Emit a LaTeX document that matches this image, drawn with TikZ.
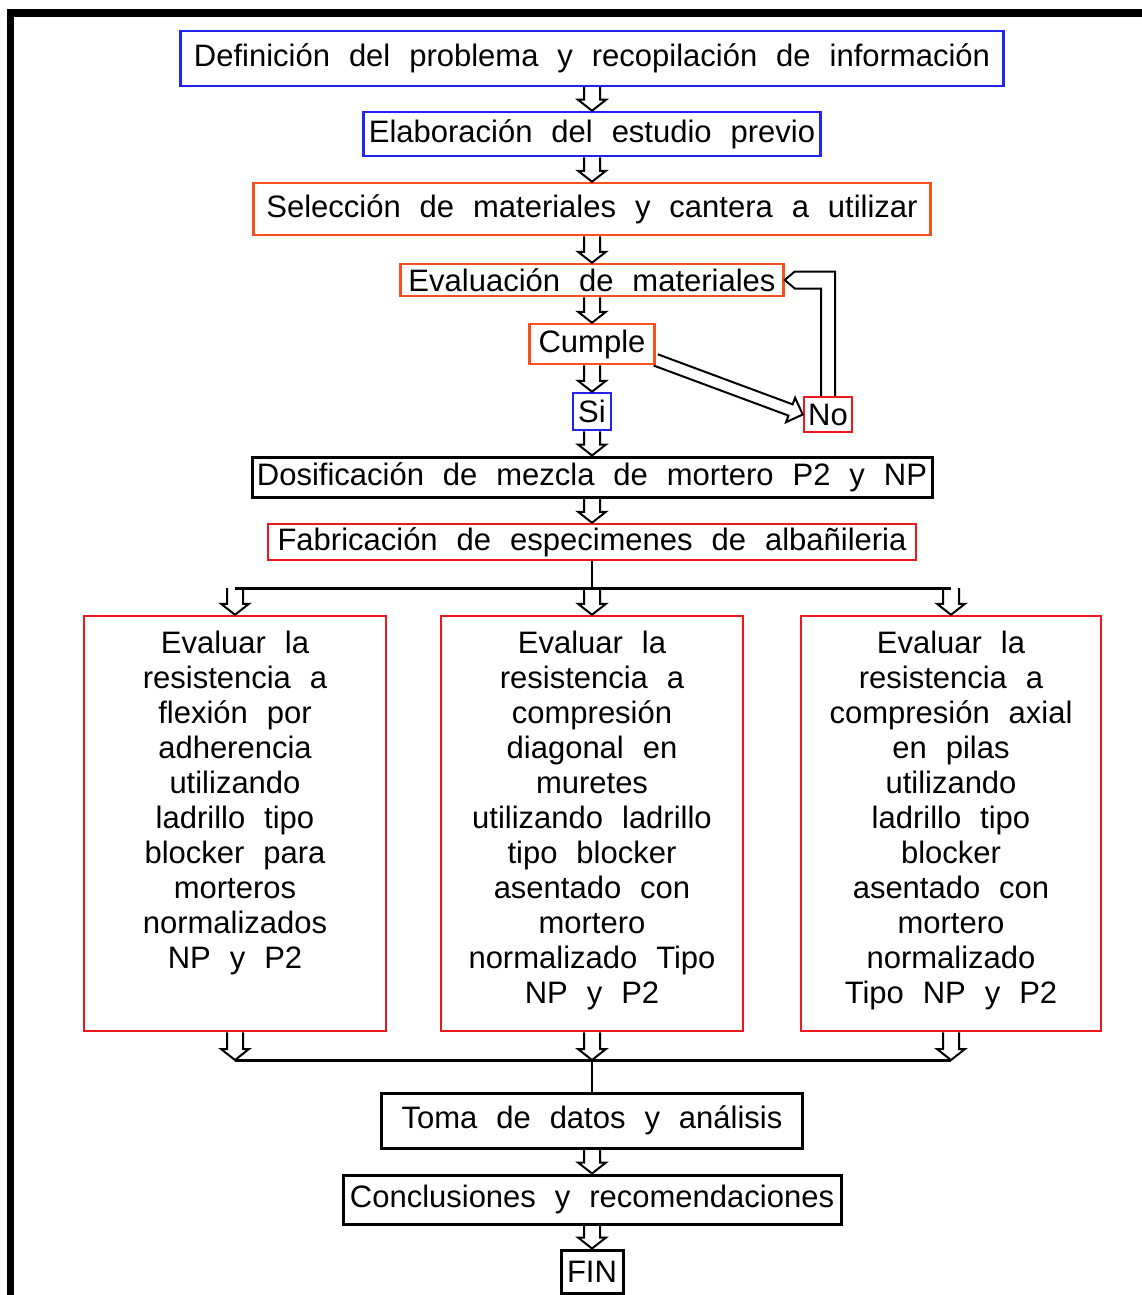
\documentclass[tikz,border=0pt]{standalone}
\usepackage{fontspec}
\setmainfont{Liberation Sans}[WordSpace=2.2]
\usetikzlibrary{calc}
\definecolor{stepblue}{RGB}{35,35,240}
\definecolor{steporange}{RGB}{250,80,30}
\definecolor{stepred}{RGB}{235,25,30}

\newcommand{\boxfont}{\fontsize{31}{35}\selectfont}
\newcommand{\arrsw}{8pt}
\newcommand{\arrhw}{14pt}
\newcommand{\arrhl}{11pt}
% hollow block arrow, tip at #2
\newcommand{\blkarrow}[2]{%
  \coordinate (hb) at ($(#2)!\arrhl!(#1)$);
  \draw[blk] ($(#1)!\arrsw!90:(#2)$) -- ($(hb)!\arrsw!90:(#2)$) -- ($(hb)!\arrhw!90:(#2)$)
    -- (#2) -- ($(hb)!\arrhw!-90:(#2)$) -- ($(hb)!\arrsw!-90:(#2)$) -- ($(#1)!\arrsw!-90:(#2)$);}
\newcommand{\evtext}[1]{\parbox[c][385pt][t]{296pt}{\centering #1}}

\begin{document}
\begin{tikzpicture}[x=1pt, y=1pt,
    box/.style={draw, line width=2.5pt, inner sep=0pt, font=\boxfont, align=center},
    bluebox/.style={box, draw=stepblue},
    orangebox/.style={box, draw=steporange},
    redbox/.style={box, draw=stepred},
    blackbox/.style={box, draw=black, line width=3pt},
    blk/.style={draw=black, line width=2pt, line join=miter},
    bus/.style={draw=black, line width=3pt}
]
    \useasboundingbox (0,0) rectangle (1142,-1295);
    % frame
    \fill (7,-9) rectangle (1142,-17);
    \fill (7,-9) rectangle (14,-1295);

    \node[bluebox, minimum width=823, minimum height=55] (def) at (592,-58.5)
        {Definición del problema y recopilación de información};
    \node[bluebox, minimum width=457, minimum height=44] (elab) at (592,-134)
        {Elaboración del estudio previo};
    \node[orangebox, minimum width=677, minimum height=52] (sel) at (592,-209)
        {Selección de materiales y cantera a utilizar};
    \node[orangebox, minimum width=383, minimum height=32] (eval) at (592,-280)
        {Evaluación de materiales};
    \node[orangebox, minimum width=125, minimum height=40] (cumple) at (592,-344)
        {Cumple};
    \node[bluebox, minimum width=38, minimum height=37] (si) at (592,-411.5) {Si};
    \node[redbox, minimum width=48, minimum height=35] (no) at (828,-414.5) {No};
    \node[blackbox, minimum width=680, minimum height=40] (dosif) at (592,-477)
        {Dosificación de mezcla de mortero P2 y NP};
    \node[redbox, minimum width=648, minimum height=36] (fab) at (592,-542)
        {Fabricación de especimenes de albañileria};

    \node[redbox, minimum width=302, minimum height=415] (ev1) at (235,-823.5)
        {\evtext{Evaluar la\\resistencia a\\flexión por\\adherencia\\utilizando\\ladrillo tipo\\blocker para\\morteros\\normalizados\\NP y P2}};
    \node[redbox, minimum width=302, minimum height=415] (ev2) at (592,-823.5)
        {\evtext{Evaluar la\\resistencia a\\compresión\\diagonal en\\muretes\\utilizando ladrillo\\tipo blocker\\asentado con\\mortero\\normalizado Tipo\\NP y P2}};
    \node[redbox, minimum width=300, minimum height=415] (ev3) at (951,-823.5)
        {\evtext{Evaluar la\\resistencia a\\compresión axial\\en pilas\\utilizando\\ladrillo tipo\\blocker\\asentado con\\mortero\\normalizado\\Tipo NP y P2}};

    \node[blackbox, minimum width=421, minimum height=55] (toma) at (592,-1120.5)
        {Toma de datos y análisis};
    \node[blackbox, minimum width=498, minimum height=49] (concl) at (592,-1199.5)
        {Conclusiones y recomendaciones};
    \node[blackbox, minimum width=62, minimum height=43] (fin) at (592,-1271.5) {FIN};

    % main chain
    \blkarrow{def.south}{elab.north}
    \blkarrow{elab.south}{sel.north}
    \blkarrow{sel.south}{eval.north}
    \blkarrow{eval.south}{cumple.north}
    \blkarrow{cumple.south}{si.north}
    \blkarrow{si.south}{dosif.north}
    \blkarrow{dosif.south}{fab.north}

    % Cumple -> No -> back to Evaluacion
    \coordinate (cs) at ($(cumple.east)!0.75!(cumple.south east)$);
    {\renewcommand{\arrsw}{6pt}\renewcommand{\arrhw}{13pt}\renewcommand{\arrhl}{13pt}
     \blkarrow{cs}{no.west}}
    \draw[blk] ([xshift=-7pt]no.north) |- ([xshift=10pt,yshift=-8.5pt]eval.east)
        -- (eval.east) -- ([xshift=10pt,yshift=8.5pt]eval.east) -| ([xshift=7pt]no.north);

    % split to the three tests
    \coordinate (bustop) at (592,-588);
    \coordinate (t1) at (ev1.north |- bustop);
    \coordinate (t3) at (ev3.north |- bustop);
    \draw[blk] (fab.south) -- (bustop);
    \draw[bus] (t1) -- (t3);
    \blkarrow{t1}{ev1.north}
    \blkarrow{bustop}{ev2.north}
    \blkarrow{t3}{ev3.north}

    % join
    \coordinate (busbot) at (592,-1060);
    \coordinate (b1) at (ev1.south |- busbot);
    \coordinate (b3) at (ev3.south |- busbot);
    \blkarrow{ev1.south}{b1}
    \blkarrow{ev2.south}{busbot}
    \blkarrow{ev3.south}{b3}
    \draw[bus] (b1) -- (b3);
    \draw[blk] (busbot) -- (toma.north);

    \blkarrow{toma.south}{concl.north}
    \blkarrow{concl.south}{fin.north}
\end{tikzpicture}
\end{document}
